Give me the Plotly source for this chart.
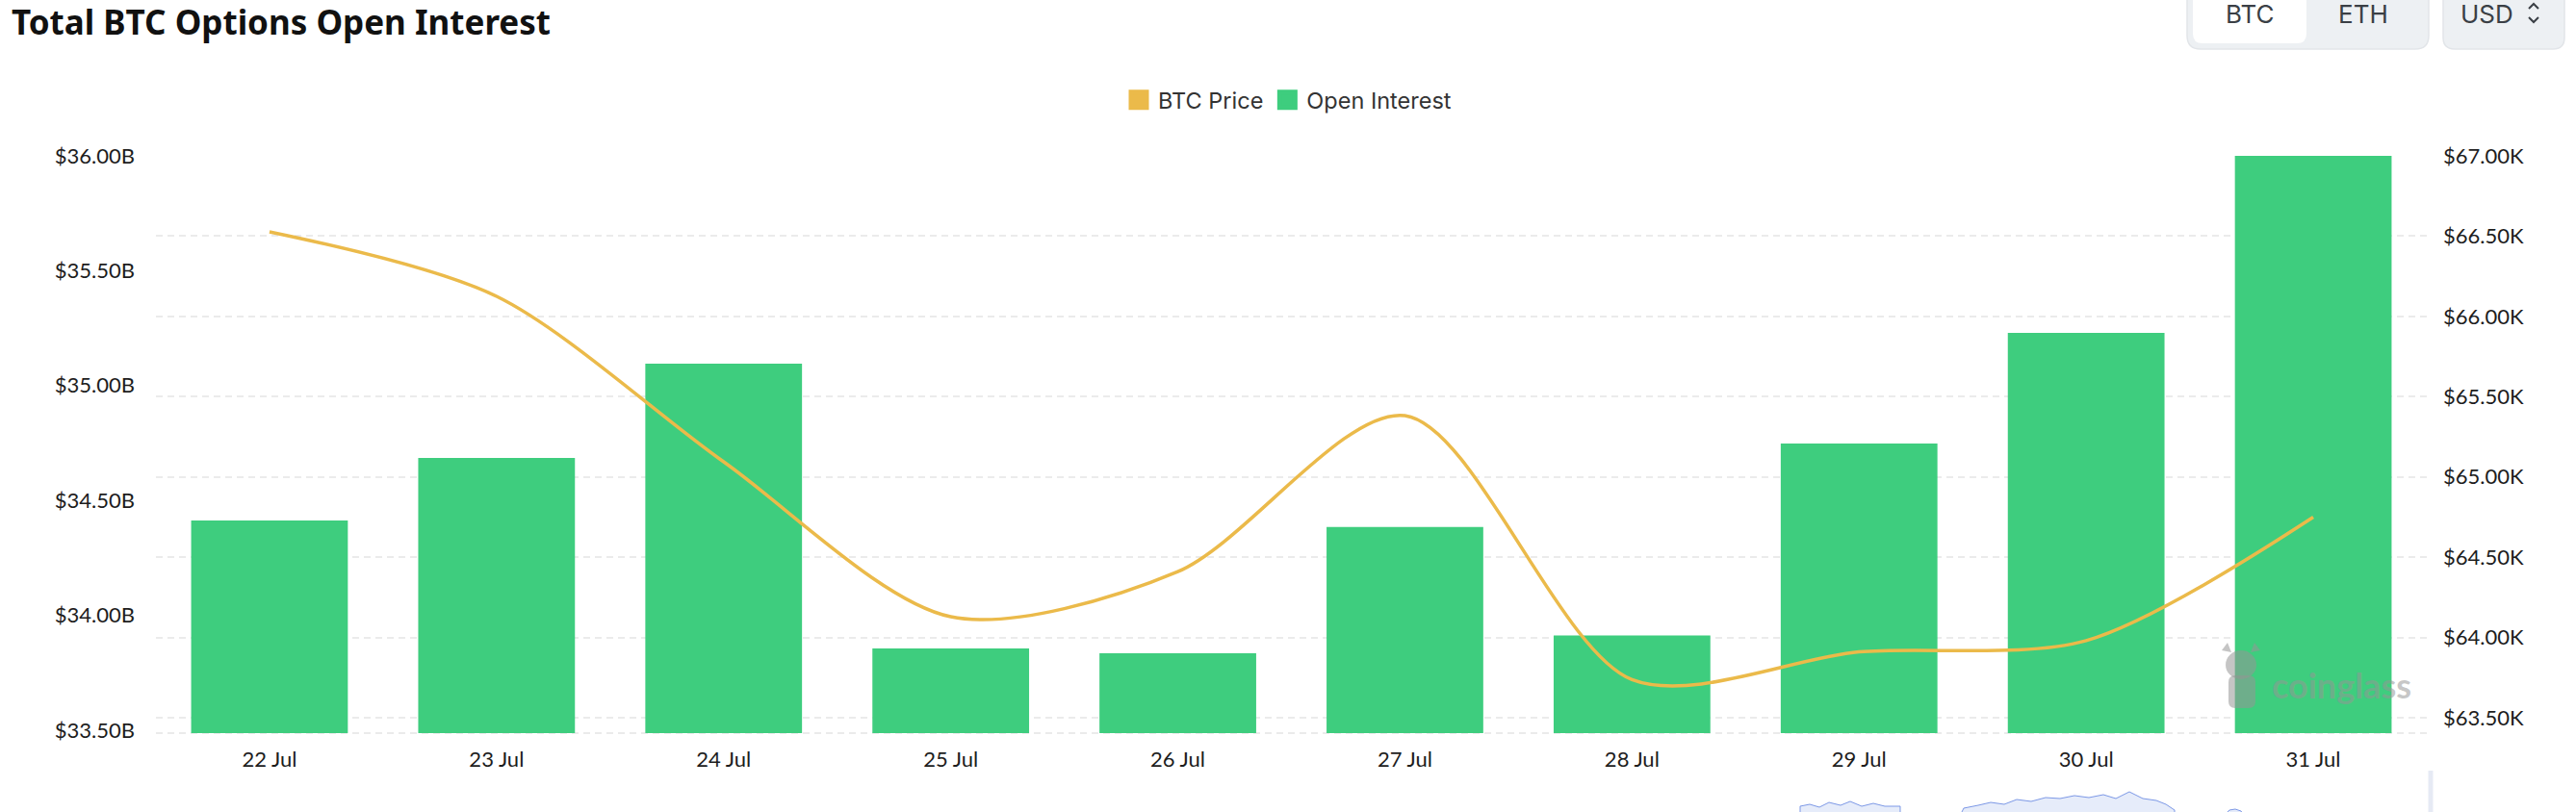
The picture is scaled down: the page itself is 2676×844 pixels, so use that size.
import plotly.graph_objects as go

# ---------------- data ----------------
dates = ["22 Jul", "23 Jul", "24 Jul", "25 Jul", "26 Jul",
         "27 Jul", "28 Jul", "29 Jul", "30 Jul", "31 Jul"]
open_interest_b = [34.413, 34.685, 35.095, 33.856, 33.835,
                   34.384, 33.912, 34.748, 35.229, 36.000]
btc_price_k = [66.527, 66.125, 65.094, 64.129, 64.410,
               65.382, 63.737, 63.910, 63.980, 64.749]
left_ticks = [33.5, 34.0, 34.5, 35.0, 35.5, 36.0]
right_ticks = [63.5, 64.0, 64.5, 65.0, 65.5, 66.0, 66.5, 67.0]
left_ticktext = ["$%.2fB" % v for v in left_ticks]
right_ticktext = ["$%.2fK" % v for v in right_ticks]

# ---------------- styling ----------------
W, H = 2676, 844
L, R, T, B = 162, 2521, 162, 762
GREEN = "#3ECD7E"
GOLD = "#EBBA4A"
GRID = "#EBEBEB"
FONT = "Inter"
TICKFONT = "Lato"


def px(x):
    return (x - L) / (R - L)


def py(y):
    return (B - y) / (B - T)


fig = go.Figure()

fig.add_trace(go.Bar(
    x=dates, y=open_interest_b, name="Open Interest",
    marker=dict(color=GREEN, line=dict(width=0)),
    yaxis="y", showlegend=False,
))
fig.add_trace(go.Scatter(
    x=dates, y=btc_price_k, name="BTC Price", mode="lines",
    line=dict(color=GOLD, width=3.5, shape="spline", smoothing=0.85),
    yaxis="y2", showlegend=False,
))
# legend entries (square swatches)
fig.add_trace(go.Scatter(
    x=[None], y=[None], name="BTC Price", mode="markers",
    marker=dict(symbol="square", size=16, color=GOLD, line=dict(color=GOLD, width=6)),
    showlegend=True,
))
fig.add_trace(go.Scatter(
    x=[None], y=[None], name="Open Interest", mode="markers",
    marker=dict(symbol="square", size=16, color=GREEN, line=dict(color=GREEN, width=6)),
    showlegend=True,
))


def rrect(x0, y0, x1, y1, r):
    pts = [
        ("M", [(x0 + r, y0)]),
        ("L", [(x1 - r, y0)]),
        ("Q", [(x1, y0), (x1, y0 + r)]),
        ("L", [(x1, y1 - r)]),
        ("Q", [(x1, y1), (x1 - r, y1)]),
        ("L", [(x0 + r, y1)]),
        ("Q", [(x0, y1), (x0, y1 - r)]),
        ("L", [(x0, y0 + r)]),
        ("Q", [(x0, y0), (x0 + r, y0)]),
    ]
    s = ""
    for cmd, ps in pts:
        s += cmd + " " + " ".join("%.6f,%.6f" % (px(a), py(b)) for a, b in ps) + " "
    return s + "Z"


def poly(points):
    return "M " + " L ".join("%.6f,%.6f" % (px(a), py(b)) for a, b in points)


WM = "rgba(150,150,150,0.55)"
SLIDER_FILL = "rgba(200,212,245,0.45)"
SLIDER_LINE = "#7C98E6"
shapes = [
    # bottom dashed baseline
    dict(type="line", xref="paper", yref="paper", x0=0, x1=1, y0=0, y1=0,
         line=dict(color=GRID, width=2, dash="7px,5px"), layer="below"),
    # BTC / ETH toggle group
    dict(type="path", xref="paper", yref="paper", path=rrect(2272, -20, 2523, 51, 14),
         fillcolor="#EDF0F3", line=dict(color="#E2E5E9", width=1.5), layer="above"),
    dict(type="path", xref="paper", yref="paper", path=rrect(2278, -20, 2396, 45, 10),
         fillcolor="#FFFFFF", line=dict(width=0), layer="above"),
    # USD dropdown
    dict(type="path", xref="paper", yref="paper", path=rrect(2538, -20, 2664, 51, 12),
         fillcolor="#EDF0F3", line=dict(color="#E2E5E9", width=1.5), layer="above"),
    dict(type="path", xref="paper", yref="paper", path=poly([(2627, 9), (2632, 4), (2637, 9)]),
         line=dict(color="#3A3F45", width=2), layer="above"),
    dict(type="path", xref="paper", yref="paper", path=poly([(2627, 18), (2632, 23), (2637, 18)]),
         line=dict(color="#3A3F45", width=2), layer="above"),
    # watermark bull logo (rough)
    dict(type="circle", xref="paper", yref="paper",
         x0=px(2312), x1=px(2344), y0=py(706), y1=py(676),
         fillcolor=WM, line=dict(width=0), layer="above"),
    dict(type="path", xref="paper", yref="paper",
         path=poly([(2308, 676), (2314, 668), (2318, 678)]) + " Z",
         fillcolor=WM, line=dict(width=0), layer="above"),
    dict(type="path", xref="paper", yref="paper",
         path=poly([(2348, 676), (2342, 668), (2338, 678)]) + " Z",
         fillcolor=WM, line=dict(width=0), layer="above"),
    dict(type="path", xref="paper", yref="paper",
         path=rrect(2315, 702, 2343, 736, 7),
         fillcolor=WM, line=dict(width=0), layer="above"),
    # data-zoom slider sliver at the bottom edge (decorative)
    dict(type="path", xref="paper", yref="paper",
         path=poly([(1870, 846), (1870, 838), (1880, 836), (1890, 839), (1900, 834),
                    (1912, 837), (1922, 833), (1934, 838), (1946, 835), (1958, 838),
                    (1974, 838), (1974, 846)]) + " Z",
         fillcolor=SLIDER_FILL, line=dict(color=SLIDER_LINE, width=1), layer="above"),
    dict(type="path", xref="paper", yref="paper",
         path=poly([(2037, 846), (2040, 840), (2055, 837), (2068, 834), (2082, 836),
                    (2095, 831), (2110, 833), (2125, 829), (2140, 830), (2155, 827),
                    (2170, 829), (2185, 826), (2198, 830), (2212, 823), (2226, 830),
                    (2240, 832), (2250, 836), (2259, 842), (2259, 846)]) + " Z",
         fillcolor=SLIDER_FILL, line=dict(color=SLIDER_LINE, width=1), layer="above"),
    dict(type="path", xref="paper", yref="paper",
         path=poly([(2312, 846), (2316, 842), (2322, 841), (2328, 843), (2330, 846)]) + " Z",
         fillcolor=SLIDER_FILL, line=dict(color=SLIDER_LINE, width=1), layer="above"),
    dict(type="line", xref="paper", yref="paper",
         x0=px(2525), x1=px(2525), y0=py(801), y1=py(846),
         line=dict(color="#E6EAF4", width=5), layer="above"),
]

annotations = [
    dict(text="BTC", xref="paper", yref="paper", x=px(2337), y=py(14),
         showarrow=False, font=dict(family=FONT, size=26, color="#3A3F45"),
         xanchor="center", yanchor="middle"),
    dict(text="ETH", xref="paper", yref="paper", x=px(2455), y=py(14),
         showarrow=False, font=dict(family=FONT, size=26, color="#3A3F45"),
         xanchor="center", yanchor="middle"),
    dict(text="USD", xref="paper", yref="paper", x=px(2583), y=py(14),
         showarrow=False, font=dict(family=FONT, size=26, color="#3A3F45"),
         xanchor="center", yanchor="middle"),
    dict(text="<b>coinglass</b>", xref="paper", yref="paper", x=px(2432), y=py(712),
         showarrow=False, font=dict(family="Lato", size=36, color=WM),
         xanchor="center", yanchor="middle"),
]

fig.update_layout(
    width=W, height=H,
    margin=dict(l=L, r=W - R, t=T, b=H - B, pad=0),
    paper_bgcolor="white", plot_bgcolor="white",
    bargap=0.31,
    title=dict(text="<b>Total BTC Options Open Interest</b>",
               font=dict(family="Noto Sans", size=35, color="#111111"),
               x=12 / W, xanchor="left", xref="container",
               y=1 - 24 / H, yanchor="middle", yref="container"),
    legend=dict(orientation="h", xref="container", x=0.5, xanchor="center",
                yref="container", y=1 - 104 / H, yanchor="middle",
                font=dict(family=FONT, size=23.5, color="#333333"),
                itemclick=False, traceorder="normal", bgcolor="rgba(0,0,0,0)"),
    xaxis=dict(type="category", showgrid=False, zeroline=False, showline=False,
               ticks="", tickfont=dict(family=TICKFONT, size=22, color="#1D1D1D"),
               ticklabelstandoff=12),
    yaxis=dict(range=[33.487, 36.0], tickvals=left_ticks, ticktext=left_ticktext,
               showgrid=False, zeroline=False, showline=False, ticks="",
               tickfont=dict(family=TICKFONT, size=22, color="#1D1D1D"),
               ticklabelstandoff=21),
    yaxis2=dict(range=[63.404, 67.0], tickvals=right_ticks, ticktext=right_ticktext,
                overlaying="y", side="right", showgrid=True, gridcolor=GRID,
                gridwidth=2, griddash="7px,5px", zeroline=False, showline=False,
                ticks="", tickfont=dict(family=TICKFONT, size=22, color="#1D1D1D"),
                ticklabelstandoff=16),
    shapes=shapes,
    annotations=annotations,
    showlegend=True,
)

fig.write_html("out.html")
